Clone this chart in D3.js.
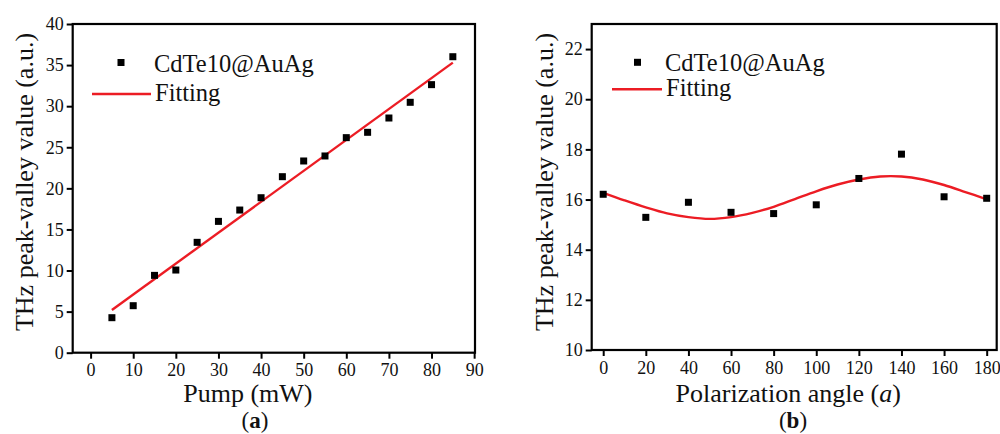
<!DOCTYPE html>
<html>
<head>
<meta charset="utf-8">
<script src="https://cdn.jsdelivr.net/npm/d3@7"></script>
<style>
  body { margin: 0; background: #fff; }
  svg text { font-family: "Liberation Serif", "Times New Roman", serif; fill: #111; }
</style>
</head>
<body>
<svg id="viz" width="1000" height="434"></svg>
<script>
// panel (a): pump power dependence
const pumpX = [5, 10, 15, 20, 25, 30, 35, 40, 45, 50, 55, 60, 65, 70, 75, 80, 85];
const pumpY = [4.26, 5.72, 9.41, 10.06, 13.43, 15.98, 17.36, 18.86, 21.42, 23.33, 23.94, 26.17, 26.82, 28.56, 30.47, 32.62, 36.02];
const pumpFitX = [5, 85];
const pumpFitY = [5.2, 35.3];
const pumpTicksX = [0, 10, 20, 30, 40, 50, 60, 70, 80, 90];
const pumpTicksY = [0, 5, 10, 15, 20, 25, 30, 35, 40];

// panel (b): polarization angle dependence
const angleX = [0, 20, 40, 60, 80, 100, 120, 140, 160, 180];
const angleY = [16.21, 15.29, 15.89, 15.49, 15.44, 15.79, 16.84, 17.81, 16.11, 16.05];
const angleFitX = [0, 10, 20, 30, 40, 50, 60, 70, 80, 90, 100, 110, 120, 130, 140, 150, 160, 170, 180];
const angleFitY = [16.27, 15.97, 15.69, 15.45, 15.30, 15.23, 15.30, 15.47, 15.71, 16.02, 16.33, 16.60, 16.80, 16.92, 16.92, 16.80, 16.58, 16.30, 16.01];
const angleTicksX = [0, 20, 40, 60, 80, 100, 120, 140, 160, 180];
const angleTicksY = [10, 12, 14, 16, 18, 20, 22];

const seriesName = "CdTe10@AuAg";
const fitName = "Fitting";
const red = "#ec1c24";
const serif = '"Liberation Serif", "Times New Roman", serif';

const svg = d3.select("svg#viz");

let drawPanel = function(opt) {
	const x = d3.scaleLinear().domain(opt.xDomain).range(opt.xRange);
	const y = d3.scaleLinear().domain(opt.yDomain).range(opt.yRange);

	const g = svg.append("g");

	// frame
	g.append("rect")
		.attr("x", opt.xRange[0]).attr("y", opt.yRange[1])
		.attr("width", opt.xRange[1] - opt.xRange[0])
		.attr("height", opt.yRange[0] - opt.yRange[1])
		.attr("fill", "none").attr("stroke", "#000").attr("stroke-width", 2.2);

	// axes
	const xAxis = g.append("g")
		.attr("transform", translate(0, opt.yRange[0]))
		.call(d3.axisBottom(x).tickValues(opt.xTicks).tickSize(6).tickSizeOuter(0).tickPadding(5));
	const yAxis = g.append("g")
		.attr("transform", translate(opt.xRange[0], 0))
		.call(d3.axisLeft(y).tickValues(opt.yTicks).tickSize(6).tickSizeOuter(0).tickPadding(3));

	[xAxis, yAxis].forEach(a => {
		a.attr("font-family", null).attr("font-size", null);
		a.select(".domain").remove();
		a.selectAll(".tick line").attr("stroke", "#000").attr("stroke-width", 2);
		a.selectAll(".tick text")
			.style("font-family", serif)
			.style("font-size", "18px")
			.attr("fill", "#111");
	});

	// fitted line
	const line = d3.line()
		.x(d => x(d[0]))
		.y(d => y(d[1]))
		.curve(opt.curve);
	g.append("path")
		.datum(opt.fitX.map((v, i) => [v, opt.fitY[i]]))
		.attr("fill", "none").attr("stroke", red).attr("stroke-width", 2.4)
		.attr("d", line);

	// data squares
	const s = 7;
	g.selectAll("rect.pt")
		.data(opt.dataX.map((v, i) => [v, opt.dataY[i]]))
		.join("rect")
		.attr("class", "pt")
		.attr("x", d => x(d[0]) - s / 2)
		.attr("y", d => y(d[1]) - s / 2)
		.attr("width", s).attr("height", s)
		.attr("fill", "#000");

	// legend
	const L = opt.legend;
	g.append("rect")
		.attr("x", L.markX - 3.5).attr("y", L.markY - 3.5)
		.attr("width", 7).attr("height", 7).attr("fill", "#000");
	g.append("text")
		.attr("x", L.textX).attr("y", L.markY + 9)
		.attr("font-size", 24.5).text(seriesName);
	g.append("line")
		.attr("x1", L.lineX1).attr("x2", L.lineX2)
		.attr("y1", L.lineY).attr("y2", L.lineY)
		.attr("stroke", red).attr("stroke-width", 2.6);
	g.append("text")
		.attr("x", L.lineX2 + 4).attr("y", L.lineY + 7)
		.attr("font-size", 24.5).text(fitName);

	// axis titles
	const cx = (opt.xRange[0] + opt.xRange[1]) / 2;
	const xt = g.append("text")
		.attr("x", cx + opt.xTitleShift).attr("y", 402)
		.attr("text-anchor", "middle").attr("font-size", 26);
	opt.xTitle.forEach(p => xt.append("tspan").attr("font-style", p.italic ? "italic" : null).text(p.t));

	g.append("text")
		.attr("transform", translate(opt.yTitleX, 182) + " rotate(-90)")
		.attr("text-anchor", "middle").attr("font-size", 26)
		.text("THz peak-valley value (a.u.)");

	// panel label, bold letter
	const pl = g.append("text")
		.attr("x", opt.panelX).attr("y", 428)
		.attr("text-anchor", "middle").attr("font-size", 23);
	pl.append("tspan").text("(");
	pl.append("tspan").attr("font-weight", "bold").text(opt.panel);
	pl.append("tspan").text(")");
};

drawPanel({
	xDomain: [-4.2, 90.2], xRange: [72.7, 475],
	yDomain: [0, 40], yRange: [352.7, 24],
	xTicks: pumpTicksX, yTicks: pumpTicksY,
	dataX: pumpX, dataY: pumpY,
	fitX: pumpFitX, fitY: pumpFitY, curve: d3.curveLinear,
	legend: { markX: 121, markY: 62.5, textX: 154, lineX1: 92, lineX2: 151, lineY: 94 },
	xTitle: [{ t: "Pump (mW)" }], xTitleShift: -26,
	yTitleX: 33,
	panel: "a", panelX: 255
});

drawPanel({
	xDomain: [-5.4, 184.7], xRange: [591.7, 996.7],
	yDomain: [10, 23], yRange: [350, 24],
	xTicks: angleTicksX, yTicks: angleTicksY,
	dataX: angleX, dataY: angleY,
	fitX: angleFitX, fitY: angleFitY, curve: d3.curveCatmullRom,
	legend: { markX: 637.5, markY: 62.3, textX: 665, lineX1: 612, lineX2: 662, lineY: 89.3 },
	xTitle: [{ t: "Polarization angle (" }, { t: "a", italic: true }, { t: ")" }], xTitleShift: -6,
	yTitleX: 553,
	panel: "b", panelX: 793
});

function translate(x, y) {
	return 'translate(' + x + ',' + y + ')';
}
</script>
</body>
</html>
